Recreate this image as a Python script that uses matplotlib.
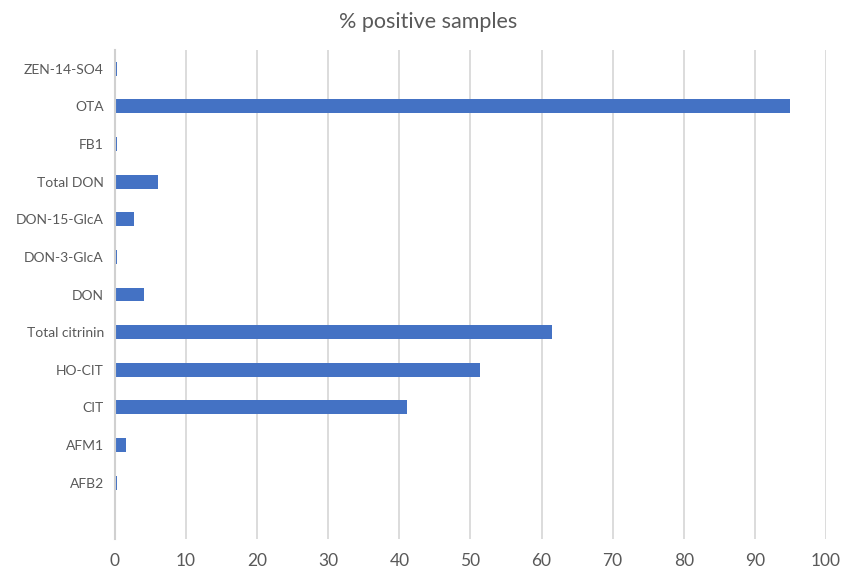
import matplotlib.pyplot as plt

# data (bottom to top)
categories = ["AFB2", "AFM1", "CIT", "HO-CIT", "Total citrinin", "DON",
              "DON-3-GlcA", "DON-15-GlcA", "Total DON", "FB1", "OTA", "ZEN-14-SO4"]
pct_positive = [0.3, 1.6, 41.1, 51.3, 61.4, 4.1, 0.3, 2.7, 6.1, 0.3, 95.0, 0.3]
x_ticks = list(range(0, 101, 10))

plt.rcParams['font.family'] = ['Lato', 'DejaVu Sans']

fig = plt.figure(figsize=(8.45, 5.68), dpi=100)
ax = fig.add_axes([0.136, 0.051, 0.8415, 0.861])

ypos = list(range(len(categories)))
ax.barh(ypos, pct_positive, height=0.37, color='#4472C4', zorder=3)

ax.set_xlim(0, 100)
ax.set_ylim(-1.5, len(categories) - 0.5)
ax.set_xticks(x_ticks)
ax.set_yticks(ypos)
ax.set_yticklabels(categories)

ax.grid(axis='x', color='#d9d9d9', linewidth=1.3, zorder=0)
for side in ['top', 'right', 'bottom']:
    ax.spines[side].set_visible(False)
ax.spines['left'].set_color('#d0d0d0')
ax.spines['left'].set_linewidth(1.5)
ax.spines['left'].set_zorder(4)

ax.tick_params(axis='x', length=0, labelsize=12.5, labelcolor='#595959', pad=10)
ax.tick_params(axis='y', length=0, labelsize=10, labelcolor='#595959', pad=8)

# title is centred on the whole chart, not on the plot area
fig.text(0.507, 0.962, '% positive samples', fontsize=15.5, color='#595959',
         ha='center', va='center')

fig.savefig('out.png', dpi=100)
